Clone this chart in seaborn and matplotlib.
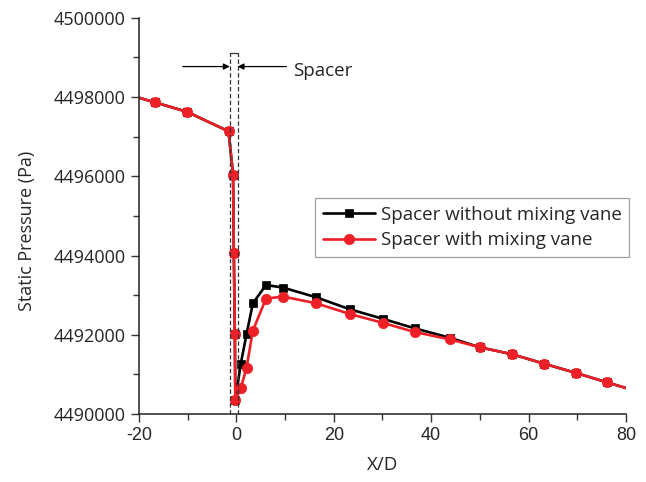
import numpy as np
import matplotlib
matplotlib.use("Agg")
import matplotlib.pyplot as plt
from matplotlib.ticker import MultipleLocator, FuncFormatter
import seaborn as sns

# data (X/D, static pressure in Pa)
x_without = [-23.2, -16.7, -10.2, -1.6, -0.66, -0.51, -0.3, -0.2, 0.9, 2.1, 3.4, 6.1, 9.6,
             16.4, 23.3, 30.2, 36.6, 43.8, 50.0, 56.7, 63.2, 69.8, 76.1, 82.4]
p_without = [4498100, 4497866, 4497632, 4497136, 4496045, 4494073, 4492015, 4490350, 4491259,
             4492015, 4492796, 4493257, 4493191, 4492947, 4492644, 4492399, 4492164, 4491927,
             4491684, 4491507, 4491270, 4491035, 4490800, 4490567]

x_with = [-23.2, -16.7, -10.2, -1.6, -0.66, -0.51, -0.3, -0.2, 0.9, 2.1, 3.4, 6.1, 9.6,
          16.4, 23.3, 30.2, 36.6, 43.8, 50.0, 56.7, 63.2, 69.8, 76.1, 82.4]
p_with = [4498100, 4497866, 4497632, 4497136, 4496045, 4494073, 4492015, 4490350, 4490647,
          4491166, 4492108, 4492914, 4492964, 4492795, 4492525, 4492298, 4492071, 4491886,
          4491684, 4491507, 4491270, 4491035, 4490800, 4490567]

labels = ["Spacer without mixing vane", "Spacer with mixing vane"]
x_ticks = [-20, 0, 20, 40, 60, 80]

# spacer region
spacer_left, spacer_right, spacer_top = -1.33, 0.25, 4499124
arrow_y = 4498770

RED = "#ee2027"

sns.set_style("ticks")
plt.rcParams["font.family"] = ["Open Sans", "DejaVu Sans"]
plt.rcParams["axes.unicode_minus"] = False

fig = plt.figure(figsize=(6.46, 4.82), dpi=100)
ax = fig.add_axes([0.215, 0.141, 0.754, 0.822])

sns.lineplot(x=x_without, y=p_without, ax=ax, color="black", marker="s", markersize=6,
             linewidth=1.9, sort=False, estimator=None, label=labels[0])
sns.lineplot(x=x_with, y=p_with, ax=ax, color=RED, marker="o", markersize=7.5,
             linewidth=1.9, sort=False, estimator=None, label=labels[1])
for line, c in zip(ax.lines, ["black", RED]):
    line.set_markeredgecolor(c)
    line.set_markerfacecolor(c)
    line.set_markeredgewidth(0.5)

# dashed spacer box
dash = dict(color="#333333", linewidth=0.9, linestyle=(0, (3.5, 2)), clip_on=False)
ax.plot([spacer_left, spacer_left], [4490000, spacer_top], **dash)
ax.plot([spacer_right, spacer_right], [4490000, spacer_top], **dash)
ax.plot([spacer_left, spacer_right], [spacer_top, spacer_top], color="#333333", linewidth=0.9)

arrow = dict(arrowstyle="-|>", color="black", lw=0.9, mutation_scale=9, shrinkA=0, shrinkB=0)
ax.annotate("", xy=(spacer_left, arrow_y), xytext=(-11.0, arrow_y), arrowprops=arrow)
ax.annotate("", xy=(spacer_right, arrow_y), xytext=(10.3, arrow_y), arrowprops=arrow)
ax.text(11.6, 4498660, "Spacer", fontsize=13.5, va="center", ha="left")

ax.set_xlim(-20, 80)
ax.set_ylim(4490000, 4500000)
ax.set_xticks(x_ticks)
ax.set_xticklabels([str(v) for v in x_ticks], fontsize=13,
                   fontfamily=["Liberation Sans Narrow", "Liberation Sans", "DejaVu Sans"])
ax.xaxis.set_minor_locator(MultipleLocator(10))
ax.yaxis.set_major_locator(MultipleLocator(2000))
ax.yaxis.set_minor_locator(MultipleLocator(1000))
ax.yaxis.set_major_formatter(FuncFormatter(lambda v, p: f"{v:.0f}"))

ax.tick_params(which="major", length=6, width=1, direction="out", color="#333333")
ax.tick_params(which="minor", length=4, width=1, direction="out", color="#333333")
ax.tick_params(axis="y", labelsize=13)

sns.despine(ax=ax)
for s in ["left", "bottom"]:
    ax.spines[s].set_linewidth(1.1)
    ax.spines[s].set_color("#222222")

ax.set_xlabel("X/D", fontsize=13.5)
ax.set_ylabel("Static Pressure (Pa)", fontsize=13)
ax.yaxis.set_label_coords(-0.212, 0.462)
ax.xaxis.set_label_coords(0.5, -0.105)

leg = ax.legend(loc="upper right", bbox_to_anchor=(0.974, 0.589), bbox_transform=fig.transFigure,
                borderaxespad=0, fontsize=13.5, frameon=True, fancybox=False, handlelength=2.8,
                handletextpad=0.3, labelspacing=0.4, borderpad=0.4)
leg.get_frame().set_edgecolor("#888888")
leg.get_frame().set_linewidth(0.9)
for h, c in zip(leg.legend_handles, ["black", RED]):
    h.set_markeredgecolor(c)

fig.savefig("out.png", dpi=100)
